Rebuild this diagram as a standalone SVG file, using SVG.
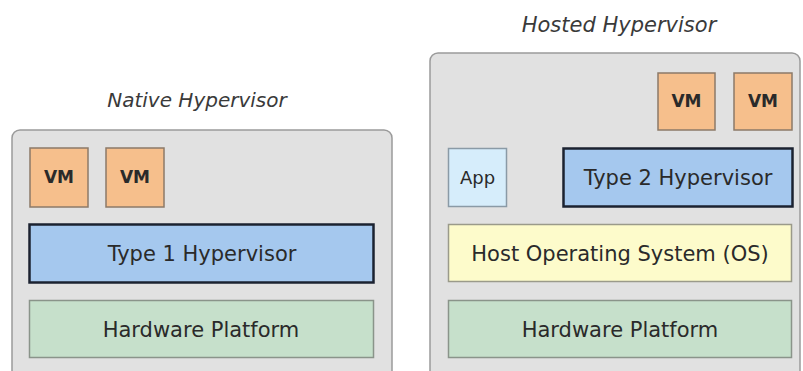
<svg xmlns="http://www.w3.org/2000/svg" width="803" height="371" viewBox="0 0 803 371">
<style>
text{font-family:"DejaVu Sans","Verdana",sans-serif;font-size:21px;fill:#2a2a2a;text-anchor:middle}
.title{font-style:italic;fill:#3a3a3a;font-size:20px}
.vmt{font-size:17px;font-weight:bold}
.cont{fill:#e1e1e1;stroke:#9a9a9a;stroke-width:1.5}
.vm{fill:#f6bf8c;stroke:#8c7a68;stroke-width:1.5}
.hyp{fill:#a5c8ee;stroke:#1b2230;stroke-width:2.5}
.hw{fill:#c6e0cb;stroke:#8a948a;stroke-width:1.5}
.os{fill:#fdfbcb;stroke:#9a9a8a;stroke-width:1.5}
.app{fill:#d6edfb;stroke:#8a9aa6;stroke-width:1.5}
</style>
<rect width="803" height="371" fill="#ffffff"/>
<g id="native">
<text class="title" x="197" y="107">Native Hypervisor</text>
<rect class="cont" x="12" y="130" width="380" height="250" rx="8"/>
</g>
<g id="native-vm1"><rect class="vm" x="30" y="148" width="58" height="59"/><text class="vmt" x="59" y="183">VM</text></g>
<g id="native-vm2"><rect class="vm" x="106" y="148" width="58" height="59"/><text class="vmt" x="135" y="183">VM</text></g>
<g id="type1"><rect class="hyp" x="29.5" y="224.5" width="344" height="58"/><text x="202" y="261">Type 1 Hypervisor</text></g>
<g id="native-hw"><rect class="hw" x="29.5" y="300.5" width="344" height="57"/><text x="201" y="337">Hardware Platform</text></g>
<g id="hosted">
<text class="title" x="619" y="32" style="font-size:21px">Hosted Hypervisor</text>
<rect class="cont" x="430" y="53" width="370" height="330" rx="8"/>
</g>
<g id="hosted-vm1"><rect class="vm" x="658" y="73" width="57" height="57"/><text class="vmt" x="686.5" y="107">VM</text></g>
<g id="hosted-vm2"><rect class="vm" x="734" y="73" width="58" height="57"/><text class="vmt" x="763" y="107">VM</text></g>
<g id="app"><rect class="app" x="448.5" y="148.5" width="58" height="58"/><text x="477.5" y="184" style="font-size:18px">App</text></g>
<g id="type2"><rect class="hyp" x="563.5" y="148.5" width="229" height="58"/><text x="678" y="185">Type 2 Hypervisor</text></g>
<g id="hostos"><rect class="os" x="448.5" y="224.5" width="343" height="57"/><text x="620" y="261">Host Operating System (OS)</text></g>
<g id="hosted-hw"><rect class="hw" x="448.5" y="300.5" width="343" height="57"/><text x="620" y="337">Hardware Platform</text></g>
<g id="connectors"></g>
</svg>
